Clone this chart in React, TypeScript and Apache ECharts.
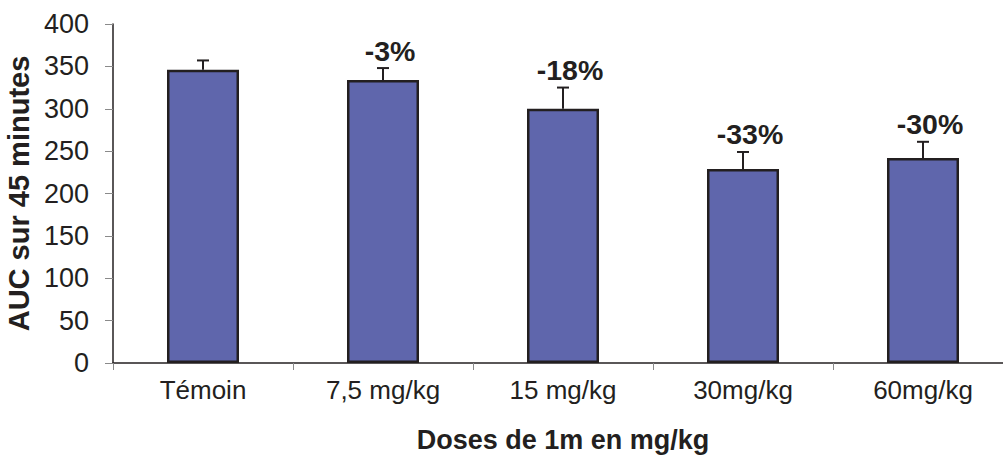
import React, { useEffect, useRef } from "react";
import * as echarts from "echarts";

const categories = ["Témoin", "7,5 mg/kg", "15 mg/kg", "30mg/kg", "60mg/kg"];
const values = [346, 334, 300, 229, 242];
const errors = [11, 14, 25, 20, 19];
const pctLabels = ["", "-3%", "-18%", "-33%", "-30%"];
const yTicks = { min: 0, max: 400, interval: 50 };

const FONT = "'Liberation Sans', Arial, Helvetica, sans-serif";
const INK = "#231F20";

export default function App() {
  const ref = useRef<HTMLDivElement>(null);
  useEffect(() => {
    if (!ref.current) return;
    const chart = echarts.init(ref.current, null, { renderer: "svg" });
    const errData = values.map((v, i) => [i, v, errors[i], pctLabels[i]]);
    chart.setOption({
      animation: false,
      backgroundColor: "#ffffff",
      grid: {
        left: 113,
        top: 24,
        width: 900,
        bottom: 98,
        containLabel: false,
        outerBoundsMode: "none",
      },
      xAxis: {
        type: "category",
        data: categories,
        name: "Doses de 1m en mg/kg",
        nameLocation: "middle",
        nameGap: 63,
        nameTextStyle: { fontFamily: FONT, fontSize: 27, fontWeight: "bold", color: INK },
        axisLine: { lineStyle: { color: INK, width: 1.5 } },
        axisTick: { show: true, length: 7, lineStyle: { color: "#8a8a8a", width: 1 } },
        axisLabel: { fontFamily: FONT, fontSize: 26, color: INK, margin: 14 },
      },
      yAxis: {
        type: "value",
        min: yTicks.min,
        max: yTicks.max,
        interval: yTicks.interval,
        name: "AUC sur 45 minutes",
        nameLocation: "middle",
        nameRotate: 90,
        nameGap: 78,
        nameTextStyle: { fontFamily: FONT, fontSize: 29, fontWeight: "bold", color: INK },
        axisLine: { show: true, lineStyle: { color: INK, width: 1.5 } },
        axisTick: { show: true, length: 8, lineStyle: { color: "#8a8a8a", width: 1 } },
        axisLabel: { fontFamily: FONT, fontSize: 27, color: INK, margin: 24 },
        splitLine: { show: false },
      },
      series: [
        {
          type: "bar",
          data: values,
          barWidth: "40%",
          itemStyle: { color: "#5F66AC", borderColor: INK, borderWidth: 2.5 },
          z: 2,
        },
        {
          type: "custom",
          z: 3,
          data: errData,
          renderItem: (params: any, api: any) => {
            const idx = api.value(0);
            const v = api.value(1);
            const e = api.value(2);
            const label = pctLabels[idx];
            const base = api.coord([idx, v]);
            const top = api.coord([idx, v + e]);
            const half = 6;
            const children: any[] = [
              {
                type: "line",
                shape: { x1: base[0], y1: base[1], x2: top[0], y2: top[1] },
                style: { stroke: INK, lineWidth: 2 },
              },
              {
                type: "line",
                shape: { x1: top[0] - half, y1: top[1], x2: top[0] + half, y2: top[1] },
                style: { stroke: INK, lineWidth: 2 },
              },
            ];
            if (label) {
              children.push({
                type: "text",
                x: top[0] + 7,
                y: top[1] - 3,
                style: {
                  text: label,
                  fontFamily: FONT,
                  fontSize: 28.5,
                  fontWeight: "bold",
                  fill: INK,
                  align: "center",
                  verticalAlign: "bottom",
                },
              });
            }
            return { type: "group", children };
          },
        },
      ],
    });
    return () => chart.dispose();
  }, []);
  return <div ref={ref} style={{ width: 1003, height: 461, position: "absolute", left: 0, top: 0 }} />;
}
